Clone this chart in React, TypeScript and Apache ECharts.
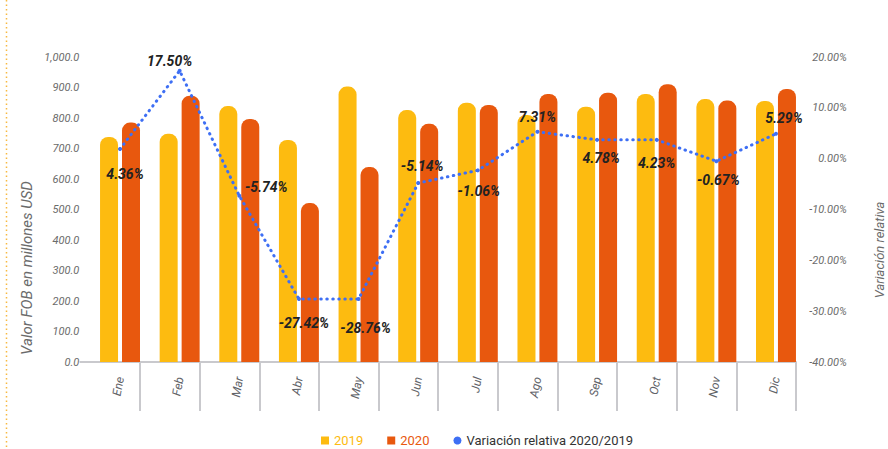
import React, { useEffect, useRef } from "react";
import * as echarts from "echarts";

const months = ["Ene", "Feb", "Mar", "Abr", "May", "Jun", "Jul", "Ago", "Sep", "Oct", "Nov", "Dic"];
const values2019 = [738, 748, 839, 728, 903, 826, 850, 810, 837, 879, 862, 856];
const values2020 = [785, 873, 797, 521, 639, 781, 843, 879, 883, 911, 857, 895];
const variacion = [1.9, 17.3, -7.3, -27.6, -27.6, -4.8, -2.3, 5.3, 3.7, 3.7, -0.5, 4.9];
const variacionLabels = ["4.36%", "17.50%", "-5.74%", "-27.42%", "-28.76%", "-5.14%", "-1.06%", "7.31%", "4.78%", "4.23%", "-0.67%", "5.29%"];

const YELLOW = "#FDBB10";
const ORANGE = "#E8580E";
const BLUE = "#3E6FF4";
const GRAY_TEXT = "#5f6368";
const AXIS_GRAY = "#c9c9cd";

// label offsets (layout only)
const labelOffsets: [number, number][] = [
  [5, 25], [-10, -10], [27, -9], [5, 24], [7, 29], [4, -17],
  [1, 21], [0, -15], [4, 18], [0, 23], [2, 19], [8, -16],
];

export default function App() {
  const ref = useRef<HTMLDivElement>(null);
  useEffect(() => {
    if (!ref.current) return;
    const chart = echarts.init(ref.current, undefined, { renderer: "svg" });
    const option: any = {
      animation: false,
      backgroundColor: "#ffffff",
      textStyle: { fontFamily: "Roboto" },
      grid: [
        { left: 90.2, right: 82.2, top: 57, bottom: 87 },
        { left: 80.4, right: 92, top: 57, bottom: 87 },
      ],
      xAxis: [
        {
          type: "category",
          gridIndex: 0,
          data: months,
          axisLine: { show: false },
          axisTick: { show: false },
          axisLabel: {
            rotate: 80,
            margin: 15,
            fontSize: 12,
            fontStyle: "italic",
            color: GRAY_TEXT,
            fontFamily: "Roboto",
          },
        },
        {
          type: "category",
          gridIndex: 1,
          data: months,
          axisLine: { show: true, lineStyle: { color: AXIS_GRAY, width: 2 } },
          axisTick: {
            show: true,
            length: 49,
            interval: (i: number) => i !== 0,
            lineStyle: { color: AXIS_GRAY, width: 2 },
          },
          axisLabel: { show: false },
        },
      ],
      yAxis: [
        {
          type: "value",
          gridIndex: 0,
          min: 0,
          max: 1000,
          interval: 100,
          axisLine: { show: false },
          axisTick: { show: false },
          splitLine: { show: false },
          axisLabel: {
            margin: 11,
            fontSize: 11,
            fontStyle: "italic",
            color: "#6b6b6b",
            formatter: (v: number) =>
              v.toLocaleString("en-US", { minimumFractionDigits: 1, maximumFractionDigits: 1 }),
          },
        },
        {
          type: "value",
          gridIndex: 0,
          position: "right",
          min: -40,
          max: 20,
          interval: 10,
          axisLine: { show: false },
          axisTick: { show: false },
          splitLine: { show: false },
          axisLabel: {
            margin: 41,
            align: "right",
            fontSize: 11,
            fontStyle: "italic",
            color: "#6b6b6b",
            formatter: (v: number) => v.toFixed(2) + "%",
          },
        },
        { type: "value", gridIndex: 1, show: false },
      ],
      legend: {
        left: 316,
        top: 429,
        itemWidth: 8,
        itemHeight: 8,
        itemGap: 24,
        textStyle: { fontSize: 13, fontFamily: "Roboto" },
        data: [
          { name: "2019", icon: "rect", textStyle: { color: YELLOW } },
          { name: "2020", icon: "rect", textStyle: { color: ORANGE } },
          { name: "Variación relativa 2020/2019", icon: "circle", textStyle: { color: "#333333" } },
        ],
      },
      graphic: [
        {
          type: "line",
          shape: { x1: 6.5, y1: 0, x2: 6.5, y2: 449 },
          style: { stroke: "#F7B940", lineWidth: 1.5, lineDash: [1.5, 3] },
        },
        {
          type: "text",
          x: 27,
          y: 268,
          rotation: Math.PI / 2,
          style: {
            text: "Valor FOB en millones USD",
            fill: "#6b6b6b",
            fontSize: 15,
            fontStyle: "italic",
            fontFamily: "Roboto",
            align: "center",
            verticalAlign: "middle",
          },
        },
        {
          type: "text",
          x: 879,
          y: 250,
          rotation: Math.PI / 2,
          style: {
            text: "Variación relativa",
            fill: "#6b6b6b",
            fontSize: 13,
            fontStyle: "italic",
            fontFamily: "Roboto",
            align: "center",
            verticalAlign: "middle",
          },
        },
      ],
      series: [
        {
          name: "2019",
          type: "bar",
          xAxisIndex: 0,
          yAxisIndex: 0,
          data: values2019,
          barWidth: 18,
          barGap: "22%",
          itemStyle: { color: YELLOW, borderRadius: [8, 8, 0, 0] },
        },
        {
          name: "2020",
          type: "bar",
          xAxisIndex: 0,
          yAxisIndex: 0,
          data: values2020,
          barWidth: 18,
          barGap: "22%",
          itemStyle: { color: ORANGE, borderRadius: [8, 8, 0, 0] },
        },
        {
          name: "Variación relativa 2020/2019",
          type: "line",
          xAxisIndex: 0,
          yAxisIndex: 1,
          z: 5,
          symbol: "circle",
          symbolSize: 4,
          itemStyle: { color: BLUE },
          lineStyle: { color: BLUE, width: 3, type: [0.5, 5.5], cap: "round" },
          data: variacion.map((v, i) => ({ value: v, label: { offset: labelOffsets[i] } })),
          label: {
            show: true,
            position: "inside",
            formatter: (p: any) => variacionLabels[p.dataIndex],
            fontSize: 14,
            fontWeight: "bold",
            fontStyle: "italic",
            fontFamily: "Roboto",
            color: "#222222",
          },
        },
      ],
    };
    chart.setOption(option);
    return () => chart.dispose();
  }, []);
  return (
    <div
      ref={ref}
      style={{ position: "fixed", left: 0, top: 0, width: 888, height: 449 }}
    />
  );
}
